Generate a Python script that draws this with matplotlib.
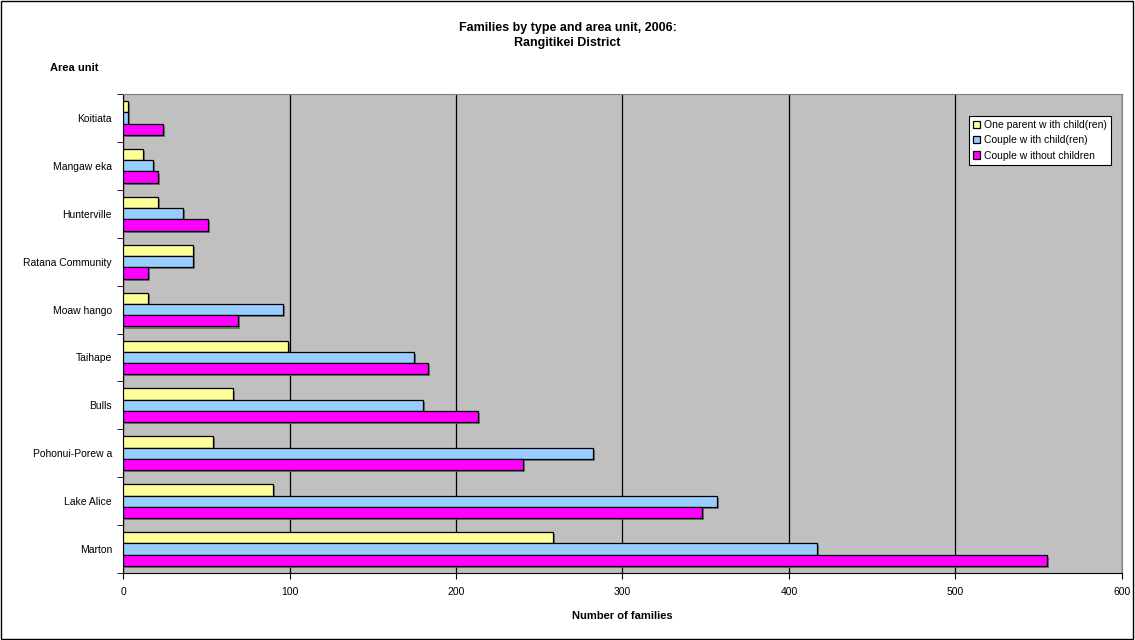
import matplotlib.pyplot as plt
import matplotlib.patheffects as pe
import numpy as np

plt.rcParams['font.family'] = ['Liberation Sans', 'DejaVu Sans']

# data (bottom to top, as drawn)
areas = ['Marton', 'Lake Alice', 'Pohonui-Porew a', 'Bulls', 'Taihape',
         'Moaw hango', 'Ratana Community', 'Hunterville', 'Mangaw eka', 'Koitiata']
one_parent = [258, 90, 54, 66, 99, 15, 42, 21, 12, 3]
couple_children = [417, 357, 282, 180, 175, 96, 42, 36, 18, 3]
couple_no_children = [555, 348, 240, 213, 183, 69, 15, 51, 21, 24]

series = [
    ('One parent w ith child(ren)', one_parent, '#FFFF99'),
    ('Couple w ith child(ren)', couple_children, '#99CCFF'),
    ('Couple w ithout children', couple_no_children, '#FF00FF'),
]

fig = plt.figure(figsize=(11.35, 6.4), dpi=100)
ax = fig.add_axes([0.1084, 0.1047, 0.8801, 0.7484])
ax.set_facecolor('#C0C0C0')

y = np.arange(len(areas))
h = 0.235
offsets = [h, 0, -h]
shadow = [pe.SimplePatchShadow(offset=(1.5, -1.5), shadow_rgbFace='#606060', alpha=0.8), pe.Normal()]
for (label, vals, color), off in zip(series, offsets):
    bars = ax.barh(y + off, vals, height=h, color=color, edgecolor='black',
                   linewidth=0.9, label=label, zorder=3)
    for b in bars:
        b.set_path_effects(shadow)

ax.set_xlim(0, 600)
ax.set_ylim(-0.5, len(areas) - 0.5)
ax.set_xticks(np.arange(0, 601, 100))
ax.xaxis.grid(True, color='black', linewidth=0.9, zorder=1)
ax.set_axisbelow(True)

ax.set_yticks(y)
ax.set_yticklabels(areas)
ax.set_yticks(np.arange(-0.5, len(areas), 1), minor=True)
ax.tick_params(axis='y', which='major', length=0, pad=8, labelsize=7.5)
ax.tick_params(axis='y', which='minor', length=4, direction='out')
ax.tick_params(axis='x', length=4, direction='out', labelsize=7.5, pad=6)

for s in ['top', 'right']:
    ax.spines[s].set_color('#808080')
ax.spines['left'].set_color('black')
ax.spines['bottom'].set_color('black')

ax.set_xlabel('Number of families', fontsize=8, fontweight='bold', labelpad=10)

fig.text(0.5, 0.965, 'Families by type and area unit, 2006:\nRangitikei District',
         ha='center', va='top', fontsize=9, fontweight='bold', linespacing=1.3)
fig.text(0.044, 0.893, 'Area unit', ha='left', va='center', fontsize=8, fontweight='bold')

leg = ax.legend(loc='upper right', bbox_to_anchor=(0.9945, 0.965), fontsize=7.5,
                frameon=True, fancybox=False, edgecolor='black', framealpha=1,
                handlelength=0.7, handleheight=0.7, handletextpad=0.4,
                borderpad=0.4, labelspacing=0.5)
leg.get_frame().set_linewidth(0.8)
for hnd in leg.legend_handles:
    hnd.set_path_effects([])

fig.patches.append(plt.Rectangle((0.0005, 0.001), 0.998, 0.997, transform=fig.transFigure,
                                 fill=False, edgecolor='black', linewidth=1))

plt.savefig('out.png', dpi=100)
plt.close()
